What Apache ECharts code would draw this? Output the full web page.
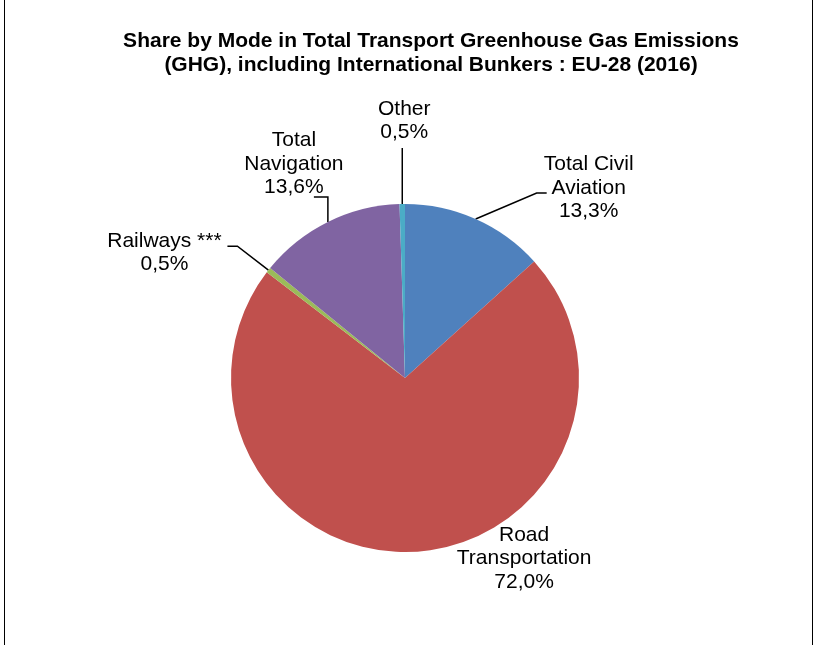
<!DOCTYPE html>
<html>
<head>
<meta charset="utf-8">
<script src="https://cdn.jsdelivr.net/npm/echarts@6/dist/echarts.min.js"></script>
<style>
  html, body { margin: 0; padding: 0; background: #fff; }
  #wrap { position: relative; width: 819px; height: 645px; }
  #chart { position: absolute; left: 0; top: 0; width: 819px; height: 645px; }
  .vline { position: absolute; top: 0; width: 1.5px; height: 645px; background: #000; }
</style>
</head>
<body>
<div id="wrap">
  <div id="chart"></div>
  <div class="vline" style="left:3.5px"></div>
  <div class="vline" style="left:811.5px"></div>
</div>
<script>
// ---- data ----
const categories = ['Total Civil Aviation', 'Road Transportation', 'Railways ***', 'Total Navigation', 'Other'];
const labelTexts = ['Total Civil\nAviation', 'Road\nTransportation', 'Railways ***', 'Total\nNavigation', 'Other'];
const shares = [13.3, 72.0, 0.5, 13.6, 0.5];

// ---- styles ----
const colors = ['#4F81BD', '#C0504D', '#9BBB59', '#8064A2', '#4BACC6'];
// label placement relative to the slice's outer-edge anchor point
const labelPlacement = [
  { label: [113, -31], line: [[61, -26], [71, -26]] },
  { label: [112, 6.5], line: null },
  { label: [-104, -17.5], line: [[-31, -24], [-41, -24]] },
  { label: [-34, -58], line: [[0, -25], [-14, -25]] },
  { label: [2, -83.5], line: [[0, -56]] }
];

const chart = echarts.init(document.getElementById('chart'), null, { renderer: 'canvas' });

const pieData = categories.map((name, i) => ({
  name: name,
  value: shares[i],
  itemStyle: { color: colors[i] },
  labelLine: { lineStyle: { opacity: labelPlacement[i].line ? 1 : 0 } }
}));

const option = {
  backgroundColor: 'transparent',
  animation: false,
  title: {
    text: 'Share by Mode in Total Transport Greenhouse Gas Emissions\n(GHG), including International Bunkers : EU-28 (2016)',
    left: 431,
    top: 29,
    padding: 0,
    textAlign: 'center',
    textStyle: {
      fontFamily: 'Liberation Sans, Arial, sans-serif',
      fontSize: 21,
      fontWeight: 'bold',
      color: '#000',
      lineHeight: 24
    }
  },
  series: [{
    type: 'pie',
    center: [405, 378],
    radius: 174,
    startAngle: 90,
    clockwise: true,
    avoidLabelOverlap: false,
    silent: true,
    itemStyle: { borderWidth: 0 },
    label: {
      show: true,
      position: 'outside',
      fontFamily: 'Liberation Sans, Arial, sans-serif',
      fontSize: 21,
      lineHeight: 23.5,
      color: '#000',
      align: 'center',
      formatter: function (p) {
        return labelTexts[p.dataIndex] + '\n' + p.value.toFixed(1).replace('.', ',') + '%';
      }
    },
    labelLine: {
      show: true,
      length: 20,
      length2: 10,
      lineStyle: { color: '#000', width: 1.5 }
    },
    labelLayout: function (params) {
      const cfg = labelPlacement[params.dataIndex];
      const pts = params.labelLinePoints;
      const p0 = pts && pts[0] ? pts[0] : [params.rect.x + params.rect.width / 2, params.rect.y + params.rect.height];
      const out = {
        x: p0[0] + cfg.label[0],
        y: p0[1] + cfg.label[1],
        align: 'center',
        verticalAlign: 'middle'
      };
      if (cfg.line) {
        out.labelLinePoints = [p0].concat(cfg.line.map(d => [p0[0] + d[0], p0[1] + d[1]]));
        if (out.labelLinePoints.length === 2) out.labelLinePoints.push(out.labelLinePoints[1]);
      } else {
        out.labelLinePoints = [p0, p0, p0];
      }
      return out;
    },
    data: pieData
  }]
};

chart.setOption(option);
</script>
</body>
</html>
